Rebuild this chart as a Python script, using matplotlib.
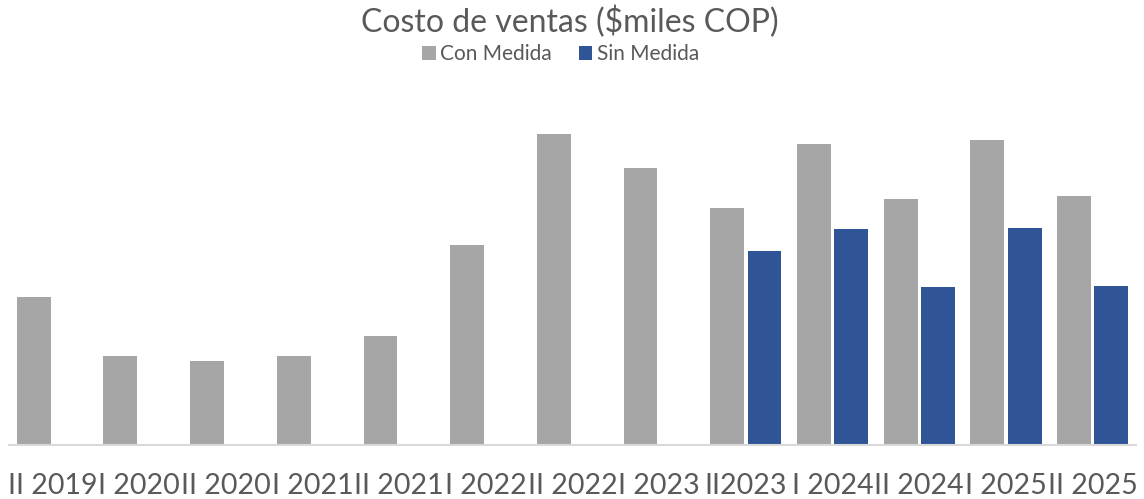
import matplotlib.pyplot as plt
import numpy as np

periodos = ["II 2019", "I 2020", "II 2020", "I 2021", "II 2021", "I 2022",
            "II 2022", "I 2023", "II2023", "I 2024", "II 2024", "I 2025", "II 2025"]
con_medida = [148, 89, 84, 89, 109, 200, 311, 277, 237, 301, 246, 305, 249]
sin_medida = [0, 0, 0, 0, 0, 0, 0, 0, 194, 216, 158, 217, 159]

gris = "#A6A6A6"
azul = "#2F5597"
texto = "#595959"

plt.rcParams['font.family'] = ['Lato', 'DejaVu Sans']

fig = plt.figure(figsize=(11.44, 4.99), dpi=100)
ax = fig.add_axes([9 / 1144, 54 / 499, 1127 / 1144, 360 / 499])

x = np.arange(len(periodos))
w = 0.39
sin = [v if v > 0 else np.nan for v in sin_medida]
ax.bar(x - w / 2 - 0.02, con_medida, w, color=gris, label="Con Medida")
ax.bar(x + w / 2 + 0.02, sin, w, color=azul, label="Sin Medida")

ax.set_xlim(-0.5, len(periodos) - 0.5)
ax.set_ylim(0, 360)
ax.set_yticks([])
ax.set_xticks(x)
ax.set_xticklabels(periodos, fontsize=20.5, color=texto)
ax.tick_params(axis='x', length=0, pad=20)
for s in ["top", "right", "left"]:
    ax.spines[s].set_visible(False)
ax.spines["bottom"].set_color("#D9D9D9")
ax.spines["bottom"].set_linewidth(1.5)

fig.text(0.498, 0.955, "Costo de ventas ($miles COP)", ha="center", va="center",
         fontsize=23, color=texto)
fig.legend(loc="center", bbox_to_anchor=(0.49, 0.891), ncol=2, frameon=False,
           fontsize=15, labelcolor=texto, handlelength=0.65, handleheight=0.65,
           handletextpad=0.2, columnspacing=1.3)

fig.savefig("out.png", dpi=100)
